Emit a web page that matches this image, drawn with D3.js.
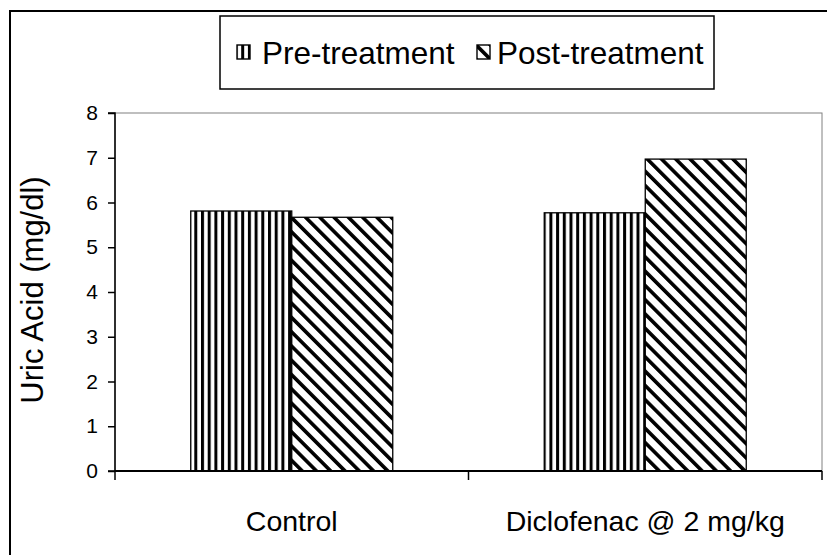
<!DOCTYPE html>
<html><head><meta charset="utf-8">
<script src="https://cdn.jsdelivr.net/npm/d3@7"></script>
<style>html,body{margin:0;padding:0;background:#fff;}svg{display:block;}
.ytick text{font-family:'Liberation Sans',Arial,sans-serif !important;font-size:21px !important;}</style>
</head><body>
<svg id="chart" width="827" height="555"></svg>
<script>
const categories = ["Control", "Diclofenac @ 2 mg/kg"];
const seriesNames = ["Pre-treatment", "Post-treatment"];
const preValues = [5.81, 5.77];
const postValues = [5.67, 6.97];
const yTicks = [0, 1, 2, 3, 4, 5, 6, 7, 8];
const yTitle = "Uric Acid (mg/dl)";

const svg = d3.select("#chart");
const font = "'Liberation Sans', Arial, sans-serif";
const L = 115, R = 822, T = 113, B = 471;

const defs = svg.append("defs");
const pv = defs.append("pattern").attr("id","pv").attr("patternUnits","userSpaceOnUse")
  .attr("width",6.7).attr("height",10);
pv.append("rect").attr("width",6.7).attr("height",10).attr("fill","#fff");
pv.append("rect").attr("x",0).attr("width",3).attr("height",10).attr("fill","#000");
const pd = defs.append("pattern").attr("id","pd").attr("patternUnits","userSpaceOnUse")
  .attr("width",10.1).attr("height",10).attr("patternTransform","rotate(-45)");
pd.append("rect").attr("width",10.1).attr("height",10).attr("fill","#fff");
pd.append("rect").attr("x",0).attr("width",3.6).attr("height",10).attr("fill","#000");
const fills = ["url(#pv)", "url(#pd)"];

// outer frame
svg.append("path").attr("d", `M10,555 L10,11 L827,11`).attr("fill","none").attr("stroke","#000").attr("stroke-width",2);

// plot area border
svg.append("rect").attr("x",L).attr("y",T).attr("width",R-L).attr("height",B-T)
  .attr("fill","none").attr("stroke","#808080").attr("stroke-width",1);

const x0 = d3.scaleBand().domain(categories).range([L,R]).paddingInner(0).paddingOuter(0);
const barW = x0.bandwidth()/3.5;
const x1 = d3.scaleBand().domain(seriesNames).range([0, 2*barW]);
const y = d3.scaleLinear().domain([0,8]).range([B,T]);

const data = categories.map((c,i)=>({cat:c, vals:[preValues[i], postValues[i]]}));
const g = svg.append("g");
data.forEach(d=>{
  const cx = x0(d.cat) + x0.bandwidth()/2 - barW;
  seriesNames.forEach((s,j)=>{
    g.append("rect").attr("x", cx + x1(s)).attr("y", y(d.vals[j]))
      .attr("width", barW).attr("height", y(0)-y(d.vals[j]))
      .attr("fill", fills[j]).attr("stroke","#000").attr("stroke-width",1.3);
  });
});

// y axis
const yAxis = d3.axisLeft(y).tickValues(yTicks).tickSize(7).tickPadding(10);
const ya = svg.append("g").attr("class","ytick").attr("transform",`translate(${L},0)`).call(yAxis);
ya.attr("font-size",21).attr("font-family",font);
ya.select(".domain").attr("stroke","#000").attr("stroke-width",1.5).attr("d",`M-7,${T}H0V${B}H-7`);
ya.selectAll(".tick line").attr("stroke","#000").attr("stroke-width",1.5);
ya.selectAll(".tick text").attr("font-size",21).attr("fill","#000");

// x axis
const xa = svg.append("g").attr("transform",`translate(0,${B})`);
xa.append("line").attr("x1",L).attr("x2",R).attr("stroke","#000").attr("stroke-width",2);
const bounds = [L].concat(categories.map(c=>x0(c)+x0.bandwidth()));
xa.selectAll(".xt").data(bounds).join("line").attr("x1",d=>d).attr("x2",d=>d)
  .attr("y1",0).attr("y2",9).attr("stroke","#000").attr("stroke-width",1.5);
xa.selectAll(".xl").data(categories).join("text")
  .attr("x",d=>x0(d)+x0.bandwidth()/2).attr("y",60)
  .attr("text-anchor","middle").style("font-family",font).style("font-size","28.5px").text(d=>d);

// y title
svg.append("text").attr("transform",`translate(43,${(T+B)/2 - 2}) rotate(-90)`)
  .attr("text-anchor","middle").style("font-family",font).style("font-size","31px").text(yTitle);

// legend
const lg = svg.append("g");
lg.append("rect").attr("x",220).attr("y",16).attr("width",494).attr("height",73)
  .attr("fill","#fff").attr("stroke","#000").attr("stroke-width",1.5);
const legX = [237, 477];
const legTX = [262, 497];
seriesNames.forEach((s,j)=>{
  lg.append("rect").attr("x",legX[j]).attr("y",45).attr("width",13).attr("height",14)
    .attr("fill",fills[j]).attr("stroke","#000").attr("stroke-width",1.4);
  lg.append("text").attr("x",legTX[j]).attr("y",64).style("font-family",font)
    .style("font-size","31.5px").text(s);
});
</script>
</body></html>
